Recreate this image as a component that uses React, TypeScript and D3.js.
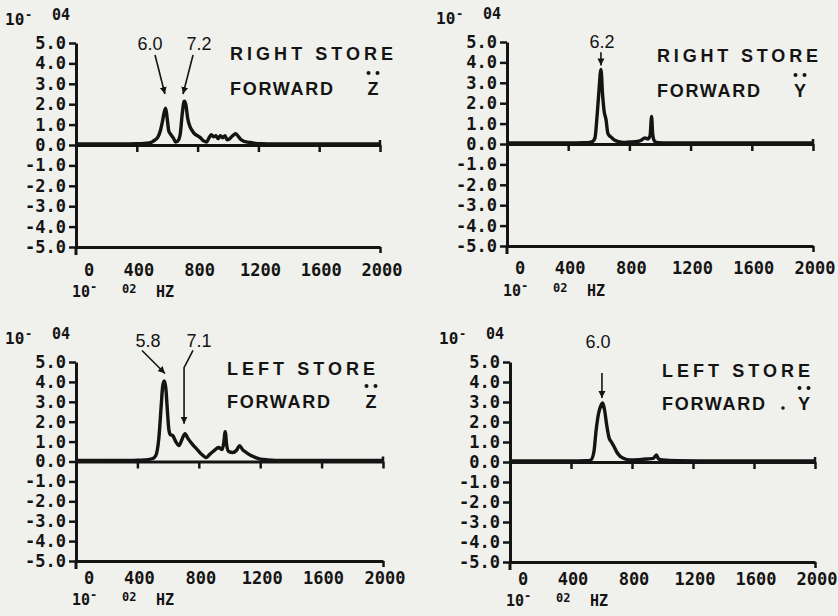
import React, { useEffect, useRef } from 'react';
import * as d3 from 'd3';

// Frequency in 10^-02 Hz, amplitude in 10^-04
const rightZFreq = [0, 100, 200, 300, 400, 450, 480, 500, 520, 540, 555, 570, 580, 590, 600, 610, 625, 640, 655, 670, 685, 700, 712, 722, 735, 750, 765, 780, 800, 820, 840, 860, 875, 890, 905, 920, 935, 950, 965, 980, 995, 1010, 1030, 1050, 1065, 1080, 1100, 1120, 1150, 1180, 1220, 1300, 1400, 1600, 1800, 2000];
const rightZAmp = [0.05, 0.05, 0.05, 0.05, 0.06, 0.08, 0.1, 0.15, 0.25, 0.4, 0.7, 1.2, 1.6, 1.8, 1.3, 0.7, 0.5, 0.35, 0.15, 0.2, 0.5, 1.6, 2.15, 2.0, 1.3, 0.9, 0.7, 0.55, 0.45, 0.35, 0.2, 0.15, 0.35, 0.5, 0.4, 0.45, 0.3, 0.45, 0.35, 0.45, 0.25, 0.3, 0.45, 0.55, 0.45, 0.3, 0.2, 0.15, 0.12, 0.08, 0.06, 0.05, 0.05, 0.05, 0.05, 0.05];

const rightYFreq = [0, 200, 400, 500, 540, 560, 575, 588, 600, 614, 625, 635, 647, 660, 686, 700, 730, 760, 800, 850, 880, 900, 920, 935, 945, 952, 960, 970, 990, 1050, 1200, 1400, 1600, 1800, 2000];
const rightYAmp = [0.05, 0.05, 0.05, 0.06, 0.08, 0.12, 0.3, 1.3, 2.5, 3.65, 2.4, 1.6, 1.2, 0.5, 0.3, 0.2, 0.12, 0.08, 0.1, 0.12, 0.2, 0.3, 0.25, 0.4, 1.35, 0.5, 0.2, 0.1, 0.07, 0.05, 0.05, 0.05, 0.05, 0.05, 0.05];

const leftZFreq = [0, 200, 400, 450, 500, 520, 540, 555, 565, 575, 585, 595, 605, 615, 630, 650, 670, 690, 710, 730, 760, 790, 820, 850, 870, 900, 930, 950, 962, 972, 982, 995, 1020, 1045, 1065, 1085, 1110, 1140, 1170, 1200, 1250, 1350, 1500, 1700, 2000];
const leftZAmp = [0.05, 0.05, 0.06, 0.08, 0.15, 0.3, 1.2, 2.8, 3.8, 4.05, 3.7, 2.6, 1.6, 1.35, 1.3, 1.0, 0.8, 1.1, 1.4, 1.15, 0.85, 0.6, 0.35, 0.2, 0.35, 0.55, 0.7, 0.6, 0.9, 1.5, 0.8, 0.5, 0.45, 0.55, 0.8, 0.6, 0.45, 0.3, 0.2, 0.12, 0.08, 0.05, 0.05, 0.05, 0.05];

const leftYFreq = [0, 200, 400, 500, 530, 550, 565, 580, 595, 608, 620, 635, 650, 665, 680, 700, 720, 740, 770, 800, 850, 900, 940, 960, 975, 1000, 1100, 1300, 1600, 2000];
const leftYAmp = [0.05, 0.05, 0.05, 0.06, 0.1, 0.5, 1.6, 2.4, 2.8, 2.95, 2.6, 1.8, 1.2, 1.0, 0.8, 0.5, 0.3, 0.2, 0.12, 0.1, 0.12, 0.15, 0.18, 0.35, 0.15, 0.1, 0.06, 0.05, 0.05, 0.05];

const yTicks = [-5, -4, -3, -2, -1, 0, 1, 2, 3, 4, 5];
const xTicks = [0, 400, 800, 1200, 1600, 2000];

interface Note {
  label: string;
  lf: number;
  la: number;
  pts: [number, number][];
}

interface Panel {
  freq: number[];
  amp: number[];
  x0: number;
  y0: number;
  w: number;
  h: number;
  title: string;
  titleW: number;
  titleX: number;
  titleY: number;
  fwdY: number;
  letter: string;
  letterX: number;
  dotted: boolean;
  labelDy: number;
  unitDy: number;
  notes: Note[];
}

const panels: Panel[] = [
  {
    freq: rightZFreq, amp: rightZAmp, x0: 76, y0: 43, w: 304, h: 204,
    title: 'RIGHT STORE', titleW: 163, titleX: 154, titleY: 17, fwdY: 52,
    letter: 'Z', letterX: 297, dotted: false, labelDy: 29, unitDy: 50,
    notes: [
      { label: '6.0', lf: 487, la: 4.66, pts: [[520, 4.41], [585, 2.5]] },
      { label: '7.2', lf: 809, la: 4.66, pts: [[770, 4.41], [704, 2.5]] },
    ],
  },
  {
    freq: rightYFreq, amp: rightYAmp, x0: 507, y0: 42, w: 306, h: 204,
    title: 'RIGHT STORE', titleW: 161, titleX: 150, titleY: 20, fwdY: 55,
    letter: 'Y', letterX: 293, dotted: false, labelDy: 28, unitDy: 50,
    notes: [{ label: '6.2', lf: 621, la: 4.7, pts: [[614, 4.5], [614, 3.85]] }],
  },
  {
    freq: leftZFreq, amp: leftZAmp, x0: 76, y0: 362, w: 307, h: 199,
    title: 'LEFT STORE', titleW: 148, titleX: 151, titleY: 13, fwdY: 46,
    letter: 'Z', letterX: 295, dotted: false, labelDy: 23, unitDy: 44,
    notes: [
      { label: '5.8', lf: 469, la: 5.73, pts: [[430, 5.58], [580, 4.42]] },
      { label: '7.1', lf: 801, la: 5.73, pts: [[762, 5.58], [704, 4.72], [704, 1.9]] },
    ],
  },
  {
    freq: leftYFreq, amp: leftYAmp, x0: 510, y0: 362, w: 305, h: 200,
    title: 'LEFT STORE', titleW: 148, titleX: 152, titleY: 15, fwdY: 48,
    letter: 'Y', letterX: 294, dotted: true, labelDy: 23, unitDy: 44,
    notes: [{ label: '6.0', lf: 577, la: 5.7, pts: [[603, 4.45], [603, 3.2]] }],
  },
];

const ink = '#141414';
const mono = '"DejaVu Sans Mono", monospace';
const sans = '"Liberation Sans", Arial, sans-serif';

const App: React.FC = () => {
  const ref = useRef<SVGSVGElement>(null);

  useEffect(() => {
    if (!ref.current) return;
    const svg = d3.select(ref.current);
    svg.selectAll('*').remove();

    svg.append('defs').append('marker')
      .attr('id', 'head')
      .attr('viewBox', '0 0 10 10')
      .attr('refX', 10)
      .attr('refY', 5)
      .attr('markerWidth', 7)
      .attr('markerHeight', 8)
      .attr('markerUnits', 'userSpaceOnUse')
      .attr('orient', 'auto')
      .append('path')
      .attr('d', 'M0,0 L10,5 L0,10 z')
      .attr('fill', ink);

    panels.forEach(p => {
      const g = svg.append('g').attr('transform', `translate(${p.x0},${p.y0})`);
      const x = d3.scaleLinear().domain([0, 2000]).range([0, p.w]);
      const y = d3.scaleLinear().domain([-5, 5]).range([p.h, 0]);

      // y axis
      const ya = g.append('g')
        .call(d3.axisLeft(y).tickValues(yTicks).tickSize(7).tickSizeOuter(0).tickPadding(3)
          .tickFormat(d => (+d).toFixed(1)));
      ya.attr('font-family', mono).attr('font-size', 17).attr('font-weight', 'bold').attr('color', ink);
      ya.select('.domain').attr('stroke-width', 3);
      ya.selectAll('.tick line').attr('stroke-width', 2.5);
      g.append('line').attr('x1', 0).attr('x2', 0).attr('y1', p.h).attr('y2', p.h + 8)
        .attr('stroke', ink).attr('stroke-width', 3);

      // zero line with ticks
      const za = g.append('g').attr('transform', `translate(0,${y(0)})`)
        .call(d3.axisBottom(x).tickValues(xTicks.slice(1)).tickSize(7).tickSizeOuter(0).tickFormat(() => ''));
      za.attr('color', ink);
      za.select('.domain').attr('stroke-width', 3);
      za.selectAll('.tick line').attr('stroke-width', 2.5);
      g.append('line').attr('x1', x(2000)).attr('x2', x(2000)).attr('y1', y(0) - 5).attr('y2', y(0))
        .attr('stroke', ink).attr('stroke-width', 2.5);

      // bottom line
      const ba = g.append('g').attr('transform', `translate(0,${y(-5)})`)
        .call(d3.axisBottom(x).tickValues([2000]).tickSize(6).tickSizeOuter(0).tickFormat(() => ''));
      ba.attr('color', ink);
      ba.select('.domain').attr('stroke-width', 3);
      ba.selectAll('.tick line').attr('stroke-width', 2.5);

      // x labels
      g.selectAll('.xl').data(xTicks).join('text')
        .attr('x', d => x(d) + (d === 0 ? 13 : 2))
        .attr('y', p.h + p.labelDy)
        .attr('text-anchor', 'middle')
        .attr('font-family', mono).attr('font-size', 17).attr('font-weight', 'bold')
        .attr('fill', ink)
        .text(d => String(d));

      // units
      const unit = g.append('g').attr('font-family', mono).attr('font-weight', 'bold').attr('fill', ink);
      unit.append('text').attr('x', -4).attr('y', p.h + p.unitDy).attr('font-size', 15).text('10');
      unit.append('text').attr('x', 14).attr('y', p.h + p.unitDy - 6).attr('font-size', 12).text('-');
      unit.append('text').attr('x', 46).attr('y', p.h + p.unitDy - 4).attr('font-size', 12).text('02');
      unit.append('text').attr('x', 80).attr('y', p.h + p.unitDy).attr('font-size', 15).text('HZ');

      const scaleTxt = g.append('g').attr('font-family', mono).attr('font-weight', 'bold').attr('fill', ink);
      scaleTxt.append('text').attr('x', -71).attr('y', -18).attr('font-size', 16).text('10');
      scaleTxt.append('text').attr('x', -51).attr('y', -24).attr('font-size', 12).text('-');
      scaleTxt.append('text').attr('x', -24).attr('y', -23).attr('font-size', 15).text('04');

      // titles
      const t = g.append('g').attr('font-family', sans).attr('font-weight', 'bold').attr('font-size', 18).attr('fill', ink);
      t.append('text').attr('x', p.titleX).attr('y', p.titleY)
        .attr('textLength', p.titleW).attr('lengthAdjust', 'spacing').text(p.title);
      t.append('text').attr('x', p.titleX).attr('y', p.fwdY)
        .attr('textLength', 103).attr('lengthAdjust', 'spacing').text('FORWARD');
      t.append('text').attr('x', p.letterX).attr('y', p.fwdY).attr('text-anchor', 'middle').text(p.letter);
      [-4.5, 4.5].forEach(dx => {
        t.append('circle').attr('cx', p.letterX + dx).attr('cy', p.fwdY - 22).attr('r', 2);
      });
      if (p.dotted) {
        t.append('circle').attr('cx', p.letterX - 21).attr('cy', p.fwdY - 2).attr('r', 1.8);
      }

      // curve
      const line = d3.line<[number, number]>()
        .x(d => x(d[0]))
        .y(d => y(d[1]))
        .curve(d3.curveMonotoneX);
      g.append('path')
        .datum(d3.zip(p.freq, p.amp) as [number, number][])
        .attr('d', line)
        .attr('fill', 'none')
        .attr('stroke', ink)
        .attr('stroke-width', 3.4)
        .attr('stroke-linejoin', 'round');

      // peak notes
      p.notes.forEach(n => {
        g.append('text')
          .attr('x', x(n.lf)).attr('y', y(n.la))
          .attr('text-anchor', 'middle')
          .attr('font-family', sans).attr('font-size', 18)
          .attr('fill', ink)
          .text(n.label);
        g.append('path')
          .attr('d', d3.line<[number, number]>().x(d => x(d[0])).y(d => y(d[1]))(n.pts))
          .attr('fill', 'none')
          .attr('stroke', ink)
          .attr('stroke-width', 1.6)
          .attr('marker-end', 'url(#head)');
      });
    });
  }, []);

  return (
    <svg
      ref={ref}
      width={838}
      height={616}
      style={{ position: 'absolute', left: 0, top: 0, background: '#f0f0ec' }}
    />
  );
};

export default App;
